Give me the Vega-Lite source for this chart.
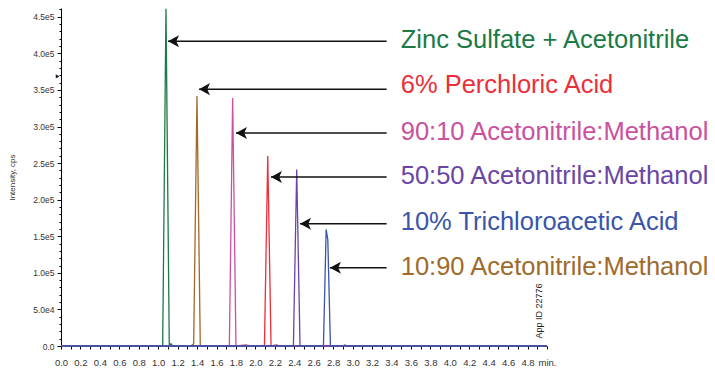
{
  "$schema": "https://vega.github.io/schema/vega-lite/v6.json",
  "width": 486,
  "height": 338,
  "autosize": "none",
  "padding": {"left": 61, "top": 8, "right": 168, "bottom": 23},
  "background": "white",
  "config": {
    "view": {"stroke": null},
    "font": "Liberation Sans",
    "axis": {"grid": false, "domainColor": "#000000", "tickColor": "#000000", "labelColor": "#333333", "labelFont": "Liberation Sans", "titleFont": "Liberation Sans"}
  },
  "datasets": {
    "chroma": [
      {"series": "Zinc Sulfate + Acetonitrile", "t": 0, "v": 0},
      {"series": "Zinc Sulfate + Acetonitrile", "t": 1.046, "v": 0},
      {"series": "Zinc Sulfate + Acetonitrile", "t": 1.080, "v": 461000},
      {"series": "Zinc Sulfate + Acetonitrile", "t": 1.114, "v": 0},
      {"series": "Zinc Sulfate + Acetonitrile", "t": 1.130, "v": 3000},
      {"series": "Zinc Sulfate + Acetonitrile", "t": 1.150, "v": 0},
      {"series": "Zinc Sulfate + Acetonitrile", "t": 5.0, "v": 0},
      {"series": "10:90 Acetonitrile:Methanol", "t": 0, "v": 0},
      {"series": "10:90 Acetonitrile:Methanol", "t": 1.335, "v": 0},
      {"series": "10:90 Acetonitrile:Methanol", "t": 1.365, "v": 3000},
      {"series": "10:90 Acetonitrile:Methanol", "t": 1.399, "v": 341700},
      {"series": "10:90 Acetonitrile:Methanol", "t": 1.433, "v": 0},
      {"series": "10:90 Acetonitrile:Methanol", "t": 5.0, "v": 0},
      {"series": "90:10 Acetonitrile:Methanol", "t": 0, "v": 0},
      {"series": "90:10 Acetonitrile:Methanol", "t": 1.732, "v": 0},
      {"series": "90:10 Acetonitrile:Methanol", "t": 1.766, "v": 339000},
      {"series": "90:10 Acetonitrile:Methanol", "t": 1.800, "v": 0},
      {"series": "90:10 Acetonitrile:Methanol", "t": 1.900, "v": 1500},
      {"series": "90:10 Acetonitrile:Methanol", "t": 1.950, "v": 0},
      {"series": "90:10 Acetonitrile:Methanol", "t": 5.0, "v": 0},
      {"series": "6% Perchloric Acid", "t": 0, "v": 0},
      {"series": "6% Perchloric Acid", "t": 2.093, "v": 0},
      {"series": "6% Perchloric Acid", "t": 2.127, "v": 259800},
      {"series": "6% Perchloric Acid", "t": 2.161, "v": 0},
      {"series": "6% Perchloric Acid", "t": 2.220, "v": 1500},
      {"series": "6% Perchloric Acid", "t": 2.250, "v": 0},
      {"series": "6% Perchloric Acid", "t": 5.0, "v": 0},
      {"series": "50:50 Acetonitrile:Methanol", "t": 0, "v": 0},
      {"series": "50:50 Acetonitrile:Methanol", "t": 2.391, "v": 0},
      {"series": "50:50 Acetonitrile:Methanol", "t": 2.425, "v": 241200},
      {"series": "50:50 Acetonitrile:Methanol", "t": 2.459, "v": 0},
      {"series": "50:50 Acetonitrile:Methanol", "t": 5.0, "v": 0},
      {"series": "10% Trichloroacetic Acid", "t": 0, "v": 0},
      {"series": "10% Trichloroacetic Acid", "t": 2.700, "v": 0},
      {"series": "10% Trichloroacetic Acid", "t": 2.728, "v": 159300},
      {"series": "10% Trichloroacetic Acid", "t": 2.745, "v": 145000},
      {"series": "10% Trichloroacetic Acid", "t": 2.772, "v": 0},
      {"series": "10% Trichloroacetic Acid", "t": 2.900, "v": 0},
      {"series": "10% Trichloroacetic Acid", "t": 2.920, "v": 1500},
      {"series": "10% Trichloroacetic Acid", "t": 2.940, "v": 0},
      {"series": "10% Trichloroacetic Acid", "t": 5.0, "v": 0}
    ],
    "notes": [
      {"series": "Zinc Sulfate + Acetonitrile", "tip": 1.101, "tail": 3.35, "ay": 416600, "tx": 3.495, "ty": 407300},
      {"series": "6% Perchloric Acid", "tip": 1.420, "tail": 3.35, "ay": 351100, "tx": 3.495, "ty": 345400},
      {"series": "90:10 Acetonitrile:Methanol", "tip": 1.800, "tail": 3.35, "ay": 291100, "tx": 3.495, "ty": 281900},
      {"series": "50:50 Acetonitrile:Methanol", "tip": 2.160, "tail": 3.35, "ay": 231100, "tx": 3.495, "ty": 220900},
      {"series": "10% Trichloroacetic Acid", "tip": 2.459, "tail": 3.35, "ay": 167000, "tx": 3.495, "ty": 159100},
      {"series": "10:90 Acetonitrile:Methanol", "tip": 2.767, "tail": 3.35, "ay": 107000, "tx": 3.495, "ty": 96800}
    ]
  },
  "layer": [
    {
      "data": {"name": "chroma"},
      "mark": {"type": "line", "strokeWidth": 1.3, "interpolate": "linear"},
      "encoding": {
        "x": {
          "field": "t", "type": "quantitative",
          "scale": {"domain": [0, 5], "nice": false, "zero": false},
          "axis": {
            "title": null,
            "values": [0,0.1,0.2,0.3,0.4,0.5,0.6,0.7,0.8,0.9,1.0,1.1,1.2,1.3,1.4,1.5,1.6,1.7,1.8,1.9,2.0,2.1,2.2,2.3,2.4,2.5,2.6,2.7,2.8,2.9,3.0,3.1,3.2,3.3,3.4,3.5,3.6,3.7,3.8,3.9,4.0,4.1,4.2,4.3,4.4,4.5,4.6,4.7,4.8,4.9,5.0],
            "tickCount": 200,
            "labelExpr": "datum.value >= 4.99 ? 'min.' : (round(datum.value * 10) % 2 == 0 ? format(datum.value, '.1f') : '')",
            "labelOverlap": false,
            "labelFontSize": 9.5,
            "tickSize": 3,
            "labelPadding": 8,
            "labelFlush": false
          }
        },
        "y": {
          "field": "v", "type": "quantitative",
          "scale": {"domain": [0, 462000], "nice": false},
          "axis": {
            "title": "Intensity, cps",
            "titleFontSize": 8,
            "titleFontWeight": "normal",
            "titleColor": "#333333",
            "titlePadding": 16,
            "values": [0,10000,20000,30000,40000,50000,60000,70000,80000,90000,100000,110000,120000,130000,140000,150000,160000,170000,180000,190000,200000,210000,220000,230000,240000,250000,260000,270000,280000,290000,300000,310000,320000,330000,340000,350000,360000,370000,380000,390000,400000,410000,420000,430000,440000,450000,460000],
            "tickCount": 200,
            "labelExpr": "datum.value % 50000 == 0 ? (datum.value == 0 ? '0.0' : replace(format(datum.value, '.1e'), '+', '')) : ''",
            "labelOverlap": false,
            "labelFontSize": 8.5,
            "labelPadding": 3,
            "tickSize": {"condition": {"test": "datum.value % 50000 == 0", "value": 4}, "value": 2}
          }
        },
        "color": {
          "field": "series", "type": "nominal", "legend": null,
          "scale": {
            "domain": ["Zinc Sulfate + Acetonitrile", "6% Perchloric Acid", "90:10 Acetonitrile:Methanol", "50:50 Acetonitrile:Methanol", "10% Trichloroacetic Acid", "10:90 Acetonitrile:Methanol"],
            "range": ["#1b7a45", "#ec2f3a", "#c9519f", "#6b45a5", "#3a55aa", "#a06a2a"]
          }
        }
      }
    },
    {
      "data": {"name": "notes"},
      "mark": {"type": "rule", "color": "#111111", "strokeWidth": 1.5},
      "encoding": {
        "x": {"field": "tip", "type": "quantitative"},
        "x2": {"field": "tail"},
        "y": {"field": "ay", "type": "quantitative"}
      }
    },
    {
      "data": {"name": "notes"},
      "mark": {"type": "point", "shape": "M0,0 L2,-1.1 L1.5,0 L2,1.1 Z", "filled": true, "color": "#111111", "opacity": 1, "size": 121},
      "encoding": {
        "x": {"field": "tip", "type": "quantitative"},
        "y": {"field": "ay", "type": "quantitative"}
      }
    },
    {
      "data": {"name": "notes"},
      "mark": {"type": "text", "align": "left", "baseline": "alphabetic", "fontSize": 25.5, "font": "Liberation Sans"},
      "encoding": {
        "x": {"field": "tx", "type": "quantitative"},
        "y": {"field": "ty", "type": "quantitative"},
        "text": {"field": "series"},
        "color": {"field": "series", "type": "nominal", "legend": null}
      }
    },
    {
      "data": {"values": [{"label": "App ID 22776", "t": 4.92, "v": 47800}]},
      "mark": {"type": "text", "angle": 270, "align": "center", "baseline": "middle", "fontSize": 9, "color": "#222222"},
      "encoding": {
        "x": {"field": "t", "type": "quantitative"},
        "y": {"field": "v", "type": "quantitative"},
        "text": {"field": "label"}
      }
    },
    {
      "data": {"values": [{"t": -0.035, "v": 368500}]},
      "mark": {"type": "point", "shape": "triangle-right", "filled": true, "color": "#1a1a2e", "opacity": 1, "size": 18},
      "encoding": {
        "x": {"field": "t", "type": "quantitative"},
        "y": {"field": "v", "type": "quantitative"}
      }
    }
  ]
}
